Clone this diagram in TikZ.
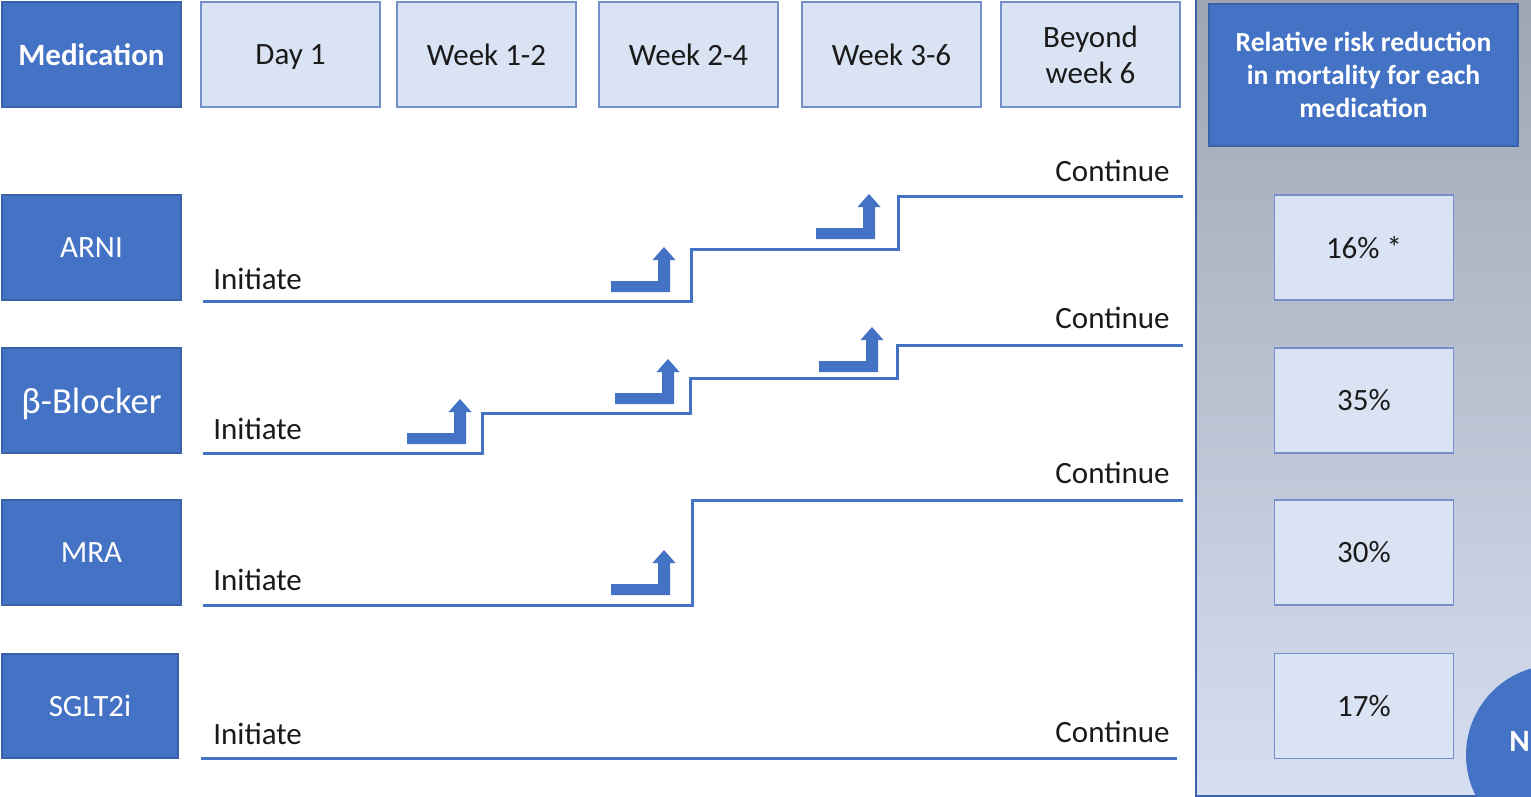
\documentclass[tikz,border=0pt]{standalone}
\usepackage{fontspec}
\setmainfont{Carlito}
\usetikzlibrary{positioning}

\definecolor{medblue}{HTML}{4472C4}
\definecolor{medline}{HTML}{3A62AA}
\definecolor{cellfill}{HTML}{DAE3F3}
\definecolor{cellline}{HTML}{7390C8}
\definecolor{paneltop}{HTML}{9EA4B2}
\definecolor{panelbot}{HTML}{D6DFF1}
\definecolor{inktext}{HTML}{1A1A1A}

\tikzset{
  medbox/.style={fill=medblue, draw=medline, line width=0.6pt, text=white,
    minimum width=89.5pt, minimum height=52.5pt, inner sep=0pt},
  timebox/.style={fill=cellfill, draw=cellline, line width=0.6pt, text=inktext,
    minimum width=89.5pt, minimum height=52.5pt, inner sep=0pt, align=center},
  rrrbox/.style={timebox},
  stepline/.style={medblue, line width=1.5pt},
  steptext/.style={text=inktext, inner sep=0pt},
  uparrow/.pic={
    \fill[medblue] (0,0) -- (-59,0) -- (-59,-11) -- (-12,-11) -- (-12,-32)
      -- (-17.5,-32) -- (-6,-45) -- (5.5,-32) -- (0,-32) -- cycle;
  }
}

\begin{document}
\begin{tikzpicture}[x=0.5pt, y=-0.5pt, every node/.style={font=\fontsize{15.5}{18}\selectfont}]

\useasboundingbox (0,0) rectangle (1531,797);
\clip (0,0) rectangle (1531,797);

% panel behind the risk reduction column
\shade[top color=paneltop, bottom color=panelbot] (1196,-10) rectangle (1545,796);
\draw[medline, line width=0.9pt] (1196,-10) -- (1196,796) -- (1545,796);

%round tag in the corner
\fill[medblue] (1556,755) circle[radius=90];
\node[anchor=west, text=white, inner sep=0pt, font=\fontsize{15.5}{18}\selectfont\bfseries] (tagN) at (1509,741) {N};

% HEADER ROW
\node[medbox, font=\fontsize{15.5}{18}\selectfont\bfseries] (medication) at (91.5,54.5) {Medication};
\node[timebox, text depth=0pt] (day1) at (290.5,54.5) {Day 1};
\node[timebox] (week12) at (486.5,54.5) {Week 1-2};
\node[timebox] (week24) at (688.5,54.5) {Week 2-4};
\node[timebox] (week36) at (891.5,54.5) {Week 3-6};
\node[timebox] (beyond) at (1090.5,54.5) {Beyond\\week 6};
\node[medbox, minimum width=154.5pt, minimum height=71pt, align=center,
  font=\fontsize{13.8}{16.5}\selectfont\bfseries] (rrr) at (1363.5,75) {Relative risk reduction\\in mortality for each\\medication};

% medication names
\node[medbox] (arni) at (91.5,247.5) {ARNI};
\node[medbox, text depth=0pt, font=\fontsize{18.3}{20}\selectfont] (bblock) at (91.5,400.5) {β-Blocker\hspace{8pt}};
\node[medbox] (mra) at (91.5,552.5) {MRA};
\node[medbox, minimum width=88pt, minimum height=52pt] (sglt) at (90,706) {SGLT2i};

% relative risk reduction values
\node[rrrbox] (arniR) at (1364,247.5) {16\% *};
\node[rrrbox] (bblockR) at (1364,400.5) {35\%};
\node[rrrbox] (mraR) at (1364,552.5) {30\%};
\node[rrrbox] (sgltR) at (1364,706) {17\%};

% ROW 1: ARNI
\coordinate (arniS) at (203,301);
\coordinate (arniA) at (691,249);
\coordinate (arniB) at (898,196);
\coordinate (arniE) at (1183,196);
\draw[stepline] (arniS) -| (arniA) -| (arniB) -- (arniE);
\node[steptext, anchor=west] (arniI) at (213,279) {Initiate};
\node[steptext, anchor=east] (arniC) at (1170,171) {Continue};
\pic at (670,292) {uparrow};
\pic at (875,239) {uparrow};

% ROW 2: beta blocker
\coordinate (bblockS) at (203,453);
\coordinate (bblockA) at (482,413);
\coordinate (bblockB) at (690,378);
\coordinate (bblockC) at (897,345);
\coordinate (bblockE) at (1183,345);
\draw[stepline] (bblockS) -| (bblockA) -| (bblockB) -| (bblockC) -- (bblockE);
\node[steptext, anchor=west] (bblockI) at (213,429) {Initiate};
\node[steptext, anchor=east] (bblockT) at (1170,318) {Continue};
\pic at (466,444) {uparrow};
\pic at (674,404) {uparrow};
\pic at (878,372) {uparrow};

% ROW 3: MRA
\coordinate (mraS) at (203,605);
\coordinate (mraA) at (692,500);
\coordinate (mraE) at (1183,500);
\draw[stepline] (mraS) -| (mraA) -- (mraE);
\node[steptext, anchor=west] (mraI) at (213,580) {Initiate};
\node[steptext, anchor=east] (mraC) at (1170,473) {Continue};
\pic at (670,595) {uparrow};

% ROW 4: SGLT2i
\coordinate (sgltS) at (201,758);
\coordinate (sgltE) at (1177,758);
\draw[stepline] (sgltS) -- (sgltE);
\node[steptext, anchor=west] (sgltI) at (213,734) {Initiate};
\node[steptext, anchor=east] (sgltC) at (1170,732) {Continue};

\end{tikzpicture}
\end{document}
